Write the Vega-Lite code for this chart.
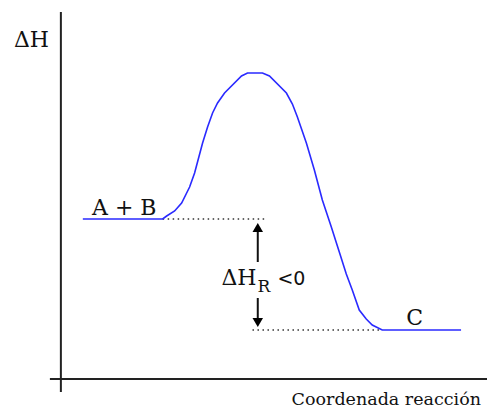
{
  "$schema": "https://vega.github.io/schema/vega-lite/v6.json",
  "width": 488,
  "height": 410,
  "autosize": {"type": "fit", "contains": "padding"},
  "padding": 0,
  "background": "white",
  "config": {"view": {"stroke": null}},
  "encoding": {
    "x": {"field": "x", "type": "quantitative", "scale": {"domain": [-61, 427], "nice": false, "zero": false}, "axis": null},
    "y": {"field": "y", "type": "quantitative", "scale": {"domain": [-31, 379], "nice": false, "zero": false}, "axis": null}
  },
  "layer": [
    {
      "data": {"values": [
        {"x": 0, "y": 367, "x2": 0, "y2": -13},
        {"x": -11, "y": 0, "x2": 427, "y2": 0}
      ]},
      "mark": {"type": "rule", "color": "#222222", "strokeWidth": 2, "clip": false},
      "encoding": {"x2": {"field": "x2"}, "y2": {"field": "y2"}}
    },
    {
      "data": {"values": [
        {"x": 102, "y": 160, "x2": 204, "y2": 160},
        {"x": 192, "y": 49, "x2": 322, "y2": 49}
      ]},
      "mark": {"type": "rule", "color": "#333333", "strokeWidth": 1.5, "strokeDash": [1.5, 3.5]},
      "encoding": {"x2": {"field": "x2"}, "y2": {"field": "y2"}}
    },
    {
      "data": {"values": [
        {"i": 0, "x": 22, "y": 160},
        {"i": 1, "x": 102, "y": 160},
        {"i": 2, "x": 106, "y": 163},
        {"i": 3, "x": 114, "y": 168},
        {"i": 4, "x": 121, "y": 176},
        {"i": 5, "x": 129, "y": 192},
        {"i": 6, "x": 134, "y": 206},
        {"i": 7, "x": 142, "y": 236},
        {"i": 8, "x": 147, "y": 252},
        {"i": 9, "x": 152, "y": 266},
        {"i": 10, "x": 157, "y": 276},
        {"i": 11, "x": 164, "y": 286},
        {"i": 12, "x": 181, "y": 303},
        {"i": 13, "x": 187, "y": 306},
        {"i": 14, "x": 202, "y": 306},
        {"i": 15, "x": 209, "y": 303},
        {"i": 16, "x": 226, "y": 286},
        {"i": 17, "x": 232, "y": 275},
        {"i": 18, "x": 237, "y": 262},
        {"i": 19, "x": 246, "y": 236},
        {"i": 20, "x": 254, "y": 209},
        {"i": 21, "x": 262, "y": 179},
        {"i": 22, "x": 271, "y": 152},
        {"i": 23, "x": 279, "y": 127},
        {"i": 24, "x": 286, "y": 105},
        {"i": 25, "x": 292, "y": 89},
        {"i": 26, "x": 299, "y": 69},
        {"i": 27, "x": 306, "y": 60},
        {"i": 28, "x": 312, "y": 54},
        {"i": 29, "x": 322, "y": 49},
        {"i": 30, "x": 401, "y": 49}
      ]},
      "mark": {"type": "line", "color": "#2a2aff", "strokeWidth": 1.6},
      "encoding": {"order": {"field": "i", "type": "quantitative"}}
    },
    {
      "data": {"values": [
        {"x": 197.3, "y": 147, "x2": 197.3, "y2": 117},
        {"x": 197.3, "y": 81, "x2": 197.3, "y2": 61}
      ]},
      "mark": {"type": "rule", "color": "#111111", "strokeWidth": 2},
      "encoding": {"x2": {"field": "x2"}, "y2": {"field": "y2"}}
    },
    {
      "data": {"values": [
        {"x": 197.3, "y": 151.5, "dir": "triangle-up"},
        {"x": 197.3, "y": 56.5, "dir": "triangle-down"}
      ]},
      "mark": {"type": "point", "filled": true, "color": "#000000", "opacity": 1, "size": 110},
      "encoding": {"shape": {"field": "dir", "type": "nominal", "scale": null, "legend": null}}
    },
    {
      "data": {"values": [
        {"x": 63.5, "y": 164, "label": "A + B"},
        {"x": 354.5, "y": 54, "label": "C"},
        {"x": -29.5, "y": 332, "label": "ΔH"}
      ]},
      "mark": {"type": "text", "font": "DejaVu Serif", "fontSize": 22, "align": "center", "baseline": "alphabetic", "color": "#111111", "clip": false},
      "encoding": {"text": {"field": "label"}}
    },
    {
      "data": {"values": [
        {"x": 196, "y": 94, "label": "ΔH"}
      ]},
      "mark": {"type": "text", "font": "DejaVu Serif", "fontSize": 22, "align": "right", "baseline": "alphabetic", "color": "#111111"},
      "encoding": {"text": {"field": "label"}}
    },
    {
      "data": {"values": [
        {"x": 197, "y": 87, "label": "R"}
      ]},
      "mark": {"type": "text", "font": "DejaVu Serif", "fontSize": 17, "align": "left", "baseline": "alphabetic", "color": "#111111"},
      "encoding": {"text": {"field": "label"}}
    },
    {
      "data": {"values": [
        {"x": 217, "y": 94, "label": "<0"}
      ]},
      "mark": {"type": "text", "font": "DejaVu Sans", "fontSize": 19, "align": "left", "baseline": "alphabetic", "color": "#111111"},
      "encoding": {"text": {"field": "label"}}
    },
    {
      "data": {"values": [
        {"x": 421, "y": -26, "label": "Coordenada reacción"}
      ]},
      "mark": {"type": "text", "font": "DejaVu Serif", "fontSize": 17.5, "align": "right", "baseline": "alphabetic", "color": "#111111", "clip": false},
      "encoding": {"text": {"field": "label"}}
    }
  ]
}
